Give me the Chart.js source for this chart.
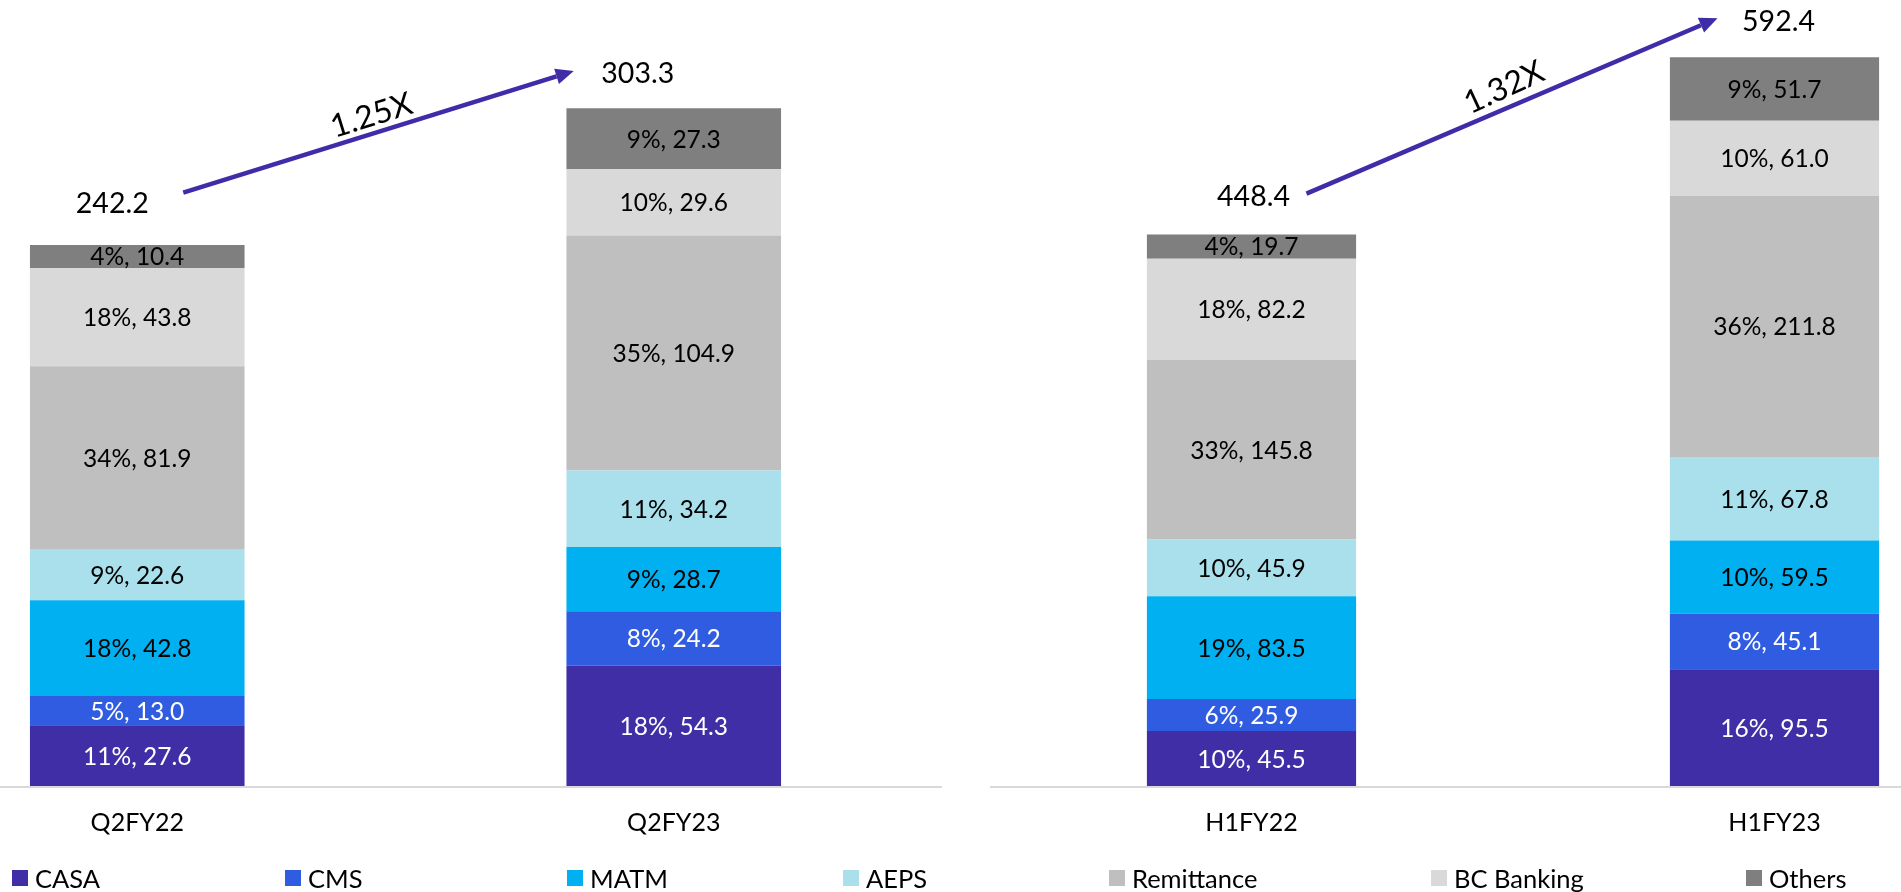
<!DOCTYPE html>
<html>
<head>
<meta charset="utf-8">
<script src="https://cdn.jsdelivr.net/npm/chart.js@4.4.0/dist/chart.umd.min.js"></script>
<style>
html,body{margin:0;padding:0;width:1901px;height:892px;overflow:hidden;background:#fff;font-family:Lato,"Open Sans",sans-serif;}
#leftWrap{position:absolute;left:-131px;top:0;width:1073px;height:892px;}
#rightWrap{position:absolute;left:990px;top:0;width:1046px;height:892px;}
.lg{position:absolute;top:863px;height:30px;display:flex;align-items:center;font-size:25.5px;color:#000;white-space:nowrap;}
.lg i{display:inline-block;width:16px;height:16px;margin-right:7px;}
</style>
</head>
<body>
<div id="leftWrap"><canvas id="leftChart"></canvas></div>
<div id="rightWrap"><canvas id="rightChart"></canvas></div>
<div id="legend"></div>
<script>
// ---- DATA ----
const leftCategories  = ['Q2FY22', 'Q2FY23'];
const rightCategories = ['H1FY22', 'H1FY23'];
const seriesNames = ['CASA', 'CMS', 'MATM', 'AEPS', 'Remittance', 'BC Banking', 'Others'];
// values per series: [Q2FY22, Q2FY23, H1FY22, H1FY23]
const casaValues       = [27.6, 54.3, 45.5, 95.5];
const cmsValues        = [13.0, 24.2, 25.9, 45.1];
const matmValues       = [42.8, 28.7, 83.5, 59.5];
const aepsValues       = [22.6, 34.2, 45.9, 67.8];
const remittanceValues = [81.9, 104.9, 145.8, 211.8];
const bcBankingValues  = [43.8, 29.6, 82.2, 61.0];
const othersValues     = [10.4, 27.3, 19.7, 51.7];
// share (%) per series: [Q2FY22, Q2FY23, H1FY22, H1FY23]
const casaPct       = [11, 18, 10, 16];
const cmsPct        = [5, 8, 6, 8];
const matmPct       = [18, 9, 19, 10];
const aepsPct       = [9, 11, 10, 11];
const remittancePct = [34, 35, 33, 36];
const bcBankingPct  = [18, 10, 18, 10];
const othersPct     = [4, 9, 4, 9];
const totals        = [242.2, 303.3, 448.4, 592.4];
const growthLabels  = ['1.25X', '1.32X'];

// ---- STYLE ----
const seriesColors = ['#3F2EA5', '#2F5CE0', '#00B0F0', '#A9E0EC', '#BFBFBF', '#D9D9D9', '#7F7F7F'];
const labelColors  = ['#FFFFFF', '#FFFFFF', '#000000', '#000000', '#000000', '#000000', '#000000'];
const FONT = 'Lato, "Open Sans", sans-serif';
const arrowColor = '#3F2CA8';

const allValues = [casaValues, cmsValues, matmValues, aepsValues, remittanceValues, bcBankingValues, othersValues];
const allPct    = [casaPct, cmsPct, matmPct, aepsPct, remittancePct, bcBankingPct, othersPct];

function buildDatasets(from, to) {
  return seriesNames.map((name, s) => ({
    label: name,
    data: allValues[s].slice(from, to),
    pct: allPct[s].slice(from, to),
    backgroundColor: seriesColors[s],
    labelColor: labelColors[s],
    borderWidth: 0,
    categoryPercentage: 0.4,
    barPercentage: 1.0
  }));
}

const overlay = {
  id: 'overlay',
  afterDatasetsDraw(chart, args, o) {
    const ctx = chart.ctx, xs = chart.scales.x, ys = chart.scales.y, ca = chart.chartArea;
    ctx.save();
    // segment labels
    ctx.textAlign = 'center';
    ctx.textBaseline = 'middle';
    ctx.font = '24.5px ' + FONT;
    chart.data.datasets.forEach((ds, di) => {
      const meta = chart.getDatasetMeta(di);
      meta.data.forEach((el, i) => {
        ctx.fillStyle = ds.labelColor;
        ctx.fillText(ds.pct[i] + '%, ' + ds.data[i].toFixed(1), el.x, (el.y + el.base) / 2 + 1);
      });
    });
    // axis line
    ctx.strokeStyle = '#D9D9D9';
    ctx.lineWidth = 2;
    ctx.beginPath();
    ctx.moveTo(ca.left, ca.bottom);
    ctx.lineTo(ca.right, ca.bottom);
    ctx.stroke();
    // category labels
    ctx.fillStyle = '#000';
    ctx.font = '25px ' + FONT;
    o.categories.forEach((c, i) => ctx.fillText(c, xs.getPixelForValue(i), ca.bottom + 36));
    // totals
    ctx.font = '28.5px ' + FONT;
    const tops = o.totals.map(t => ys.getPixelForValue(t));
    o.totals.forEach((t, i) => {
      ctx.fillText(t.toFixed(1), xs.getPixelForValue(i) + o.totalOffsets[i][0], tops[i] + o.totalOffsets[i][1]);
    });
    // arrow
    const x0 = xs.getPixelForValue(0) + o.arrowStart[0], y0 = tops[0] + o.arrowStart[1];
    const x1 = xs.getPixelForValue(1) + o.arrowEnd[0],   y1 = tops[1] + o.arrowEnd[1];
    const len = Math.hypot(x1 - x0, y1 - y0), ux = (x1 - x0) / len, uy = (y1 - y0) / len;
    const headL = 18, headW = 8;
    ctx.strokeStyle = arrowColor;
    ctx.fillStyle = arrowColor;
    ctx.lineWidth = 4.5;
    ctx.beginPath();
    ctx.moveTo(x0, y0);
    ctx.lineTo(x1 - ux * headL, y1 - uy * headL);
    ctx.stroke();
    ctx.beginPath();
    ctx.moveTo(x1, y1);
    ctx.lineTo(x1 - ux * headL - uy * headW, y1 - uy * headL + ux * headW);
    ctx.lineTo(x1 - ux * headL + uy * headW, y1 - uy * headL - ux * headW);
    ctx.closePath();
    ctx.fill();
    // growth label
    const mx = (x0 + x1) / 2 + uy * o.growthGap + o.growthShift, my = (y0 + y1) / 2 - ux * o.growthGap;
    ctx.translate(mx, my);
    ctx.rotate(Math.atan2(uy, ux) + o.growthTilt);
    ctx.fillStyle = '#000';
    ctx.font = '32px ' + FONT;
    ctx.fillText(o.growth, 0, 0);
    ctx.restore();
  }
};

function makeChart(id, cats, from, to, yMax, extra) {
  return new Chart(document.getElementById(id), {
    type: 'bar',
    data: { labels: cats, datasets: buildDatasets(from, to) },
    options: {
      responsive: true,
      maintainAspectRatio: false,
      animation: false,
      layout: { padding: { top: 0, bottom: 105, left: 0, right: 0 } },
      scales: {
        x: { stacked: true, display: false },
        y: { stacked: true, display: false, min: 0, max: yMax }
      },
      plugins: {
        legend: { display: false },
        tooltip: { enabled: false },
        overlay: Object.assign({ categories: cats, totals: totals.slice(from, to) }, extra)
      }
    },
    plugins: [overlay]
  });
}

makeChart('leftChart', leftCategories, 0, 2, 351.5, {
  totalOffsets: [[-25, -41], [-36, -34]],
  arrowStart: [46, -52], arrowEnd: [-100, -37],
  growth: growthLabels[0], growthGap: 17, growthShift: -2, growthTilt: 0.0
});
makeChart('rightChart', rightCategories, 2, 4, 638.8, {
  totalOffsets: [[2, -38], [4, -35]],
  arrowStart: [55, -41], arrowEnd: [-57, -39],
  growth: growthLabels[1], growthGap: 20, growthShift: 0, growthTilt: -0.03
});

// legend
const legendX = [12, 285, 567, 843, 1109, 1431, 1746];
const lg = document.getElementById('legend');
seriesNames.forEach((n, s) => {
  const d = document.createElement('div');
  d.className = 'lg';
  d.style.left = legendX[s] + 'px';
  d.innerHTML = '<i style="background:' + seriesColors[s] + '"></i>';
  d.appendChild(document.createTextNode(n));
  lg.appendChild(d);
});
</script>
</body>
</html>
